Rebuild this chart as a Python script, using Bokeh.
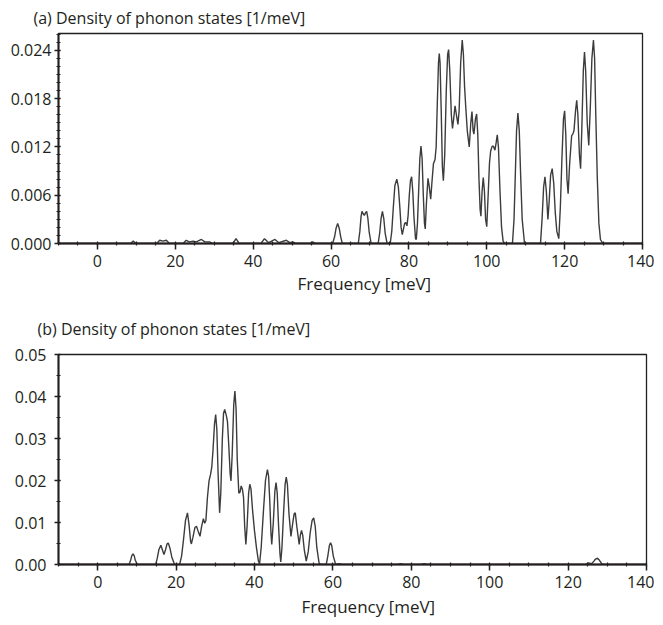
from bokeh.plotting import figure
from bokeh.layouts import column
from bokeh.models import Range1d, SingleIntervalTicker, NumeralTickFormatter, Title
from bokeh.embed import file_html
from bokeh.resources import INLINE

# ---- data: (frequency [meV], DOS [1/meV]) ----
dos_a_points = [
    (-10, 0), (8.5, 0), (9.2, 0.0003), (9.9, 0), (15.2, 0), (16.0, 0.0004), (16.8, 0.0003), (17.7, 0.0004), (18.5, 0),
    (22.0, 0), (22.8, 0.0004), (23.6, 0.0002), (24.6, 0.0003), (25.4, 0.0002), (26.7, 0.0005), (27.6, 0.0002),
    (28.8, 0.0002), (29.6, 0), (34.8, 0), (35.6, 0.0006), (36.4, 0), (42.0, 0), (42.9, 0.0006), (44.0, 0.0001),
    (45.6, 0.0005), (46.6, 0.0001), (48.5, 0.0004), (49.4, 0.0001), (50.2, 0.0002), (51.0, 0), (54.6, 0),
    (55.3, 0.0002), (56.0, 0),
    (60.4, 0), (60.9, 0.0008), (61.3, 0.0019), (61.7, 0.0025), (62.1, 0.0019), (62.5, 0.0008), (62.9, 0),
    (67.0, 0), (67.4, 0.0015), (67.7, 0.0033), (67.95, 0.0040), (68.25, 0.0037), (68.55, 0.0035), (68.85, 0.0038),
    (69.15, 0.0040), (69.45, 0.0032), (69.8, 0.0014), (70.3, 0),
    (72.1, 0), (72.5, 0.0013), (72.85, 0.0031), (73.2, 0.0040), (73.55, 0.0031), (73.9, 0.0013), (74.4, 0),
    (75.2, 0), (75.6, 0.0015), (76.0, 0.0045), (76.4, 0.0072), (76.9, 0.0080), (77.3, 0.0070), (77.7, 0.0043),
    (78.0, 0.0020), (78.3, 0.0011), (78.6, 0.0018), (78.9, 0.0025), (79.2, 0.0026), (79.5, 0.0022), (79.8, 0.0035),
    (80.1, 0.0060), (80.4, 0.0078), (80.7, 0.0083), (81.0, 0.0065), (81.3, 0.0033), (81.7, 0.0006), (81.9, 0.0005),
    (82.2, 0.0025), (82.5, 0.0065), (82.8, 0.0105), (83.1, 0.0121), (83.4, 0.0105), (83.7, 0.0060), (84.0, 0.0025),
    (84.2, 0.0018), (84.5, 0.0050), (84.9, 0.0081), (85.2, 0.0072), (85.6, 0.0055), (85.9, 0.0075), (86.3, 0.0099),
    (86.7, 0.0104), (87.0, 0.0120), (87.3, 0.0175), (87.6, 0.0225), (87.8, 0.0236), (88.0, 0.0225), (88.3, 0.0165),
    (88.6, 0.0095), (88.85, 0.0078), (89.2, 0.0110), (89.6, 0.0190), (89.95, 0.0235), (90.2, 0.0241), (90.5, 0.0215),
    (90.9, 0.0160), (91.2, 0.0143), (91.5, 0.0155), (91.85, 0.0171), (92.2, 0.0160), (92.6, 0.0148), (92.9, 0.0165),
    (93.3, 0.0225), (93.7, 0.0253), (94.0, 0.0235), (94.3, 0.0195), (94.6, 0.0170), (95.0, 0.0140), (95.5, 0.0120),
    (95.9, 0.0150), (96.2, 0.0164), (96.5, 0.0140), (96.7, 0.0136), (97.1, 0.0155), (97.4, 0.0161), (97.7, 0.0135),
    (98.0, 0.0080), (98.3, 0.0042), (98.5, 0.0034), (98.8, 0.0065), (99.1, 0.0082), (99.4, 0.0065), (99.7, 0.0030),
    (100.0, 0.0021), (100.4, 0.0065), (100.7, 0.0100), (101.0, 0.0115), (101.4, 0.0121), (101.7, 0.0121),
    (102.1, 0.0116), (102.4, 0.0125), (102.7, 0.0135), (103.0, 0.0120), (103.4, 0.0065), (103.8, 0.0020),
    (104.2, 0.0003), (104.6, 0),
    (106.6, 0), (107.0, 0.0030), (107.3, 0.0080), (107.65, 0.0140), (108.0, 0.0162), (108.35, 0.0140),
    (108.7, 0.0085), (109.1, 0.0030), (109.7, 0),
    (113.8, 0), (114.2, 0.0030), (114.6, 0.0070), (114.95, 0.0083), (115.3, 0.0065), (115.7, 0.0030), (116.0, 0.0050),
    (116.4, 0.0085), (116.8, 0.0093), (117.2, 0.0075), (117.6, 0.0038), (118.0, 0.0015), (118.5, 0.0006),
    (118.9, 0.0045), (119.3, 0.0105), (119.7, 0.0155), (120.0, 0.0165), (120.3, 0.0135), (120.6, 0.0080),
    (120.9, 0.0062), (121.3, 0.0100), (121.8, 0.0134), (122.1, 0.0136), (122.4, 0.0140), (122.8, 0.0165),
    (123.1, 0.0178), (123.4, 0.0160), (123.8, 0.0110), (124.1, 0.0093), (124.4, 0.0140), (124.8, 0.0215),
    (125.1, 0.0238), (125.4, 0.0215), (125.8, 0.0150), (126.2, 0.0122), (126.6, 0.0170), (127.0, 0.0230),
    (127.4, 0.0253), (127.7, 0.0230), (128.0, 0.0160), (128.4, 0.0080), (128.8, 0.0025), (129.2, 0.0005),
    (129.8, 0), (140, 0),
]

dos_b_points = [
    (-10, 0), (8.0, 0), (8.4, 0.0010), (8.7, 0.0021), (9.0, 0.0025), (9.3, 0.0021), (9.6, 0.0010), (10.1, 0),
    (14.8, 0), (15.2, 0.0015), (15.6, 0.0035), (16.1, 0.0046), (16.5, 0.0035), (16.9, 0.0024), (17.3, 0.0035),
    (17.7, 0.0049), (18.0, 0.0051), (18.4, 0.0040), (18.9, 0.0018), (19.6, 0),
    (20.9, 0), (21.4, 0.0020), (21.9, 0.0060), (22.4, 0.0105), (22.9, 0.0123), (23.3, 0.0095), (23.7, 0.0055),
    (23.9, 0.0049), (24.3, 0.0065), (24.8, 0.0088), (25.2, 0.0091), (25.6, 0.0080), (26.1, 0.0067), (26.5, 0.0090),
    (26.96, 0.0109), (27.3, 0.0098), (27.6, 0.0105), (28.0, 0.0160), (28.4, 0.0199), (28.8, 0.0215), (29.1, 0.0232),
    (29.4, 0.0270), (29.8, 0.0335), (30.1, 0.0357), (30.4, 0.0320), (30.7, 0.0220), (31.1, 0.0123), (31.4, 0.0170),
    (31.8, 0.0300), (32.1, 0.0360), (32.4, 0.0369), (32.8, 0.0355), (33.1, 0.0341), (33.4, 0.0290), (33.8, 0.0215),
    (34.0, 0.0199), (34.3, 0.0260), (34.7, 0.0380), (35.0, 0.0413), (35.3, 0.0370), (35.6, 0.0250), (36.0, 0.0170),
    (36.3, 0.0172), (36.6, 0.0187), (36.9, 0.0180), (37.2, 0.0160), (37.5, 0.0090), (37.8, 0.0048), (38.1, 0.0090),
    (38.5, 0.0170), (38.8, 0.0191), (39.1, 0.0180), (39.5, 0.0130), (40.0, 0.0080), (40.5, 0.0040), (41.0, 0.0008),
    (41.3, 0.0002), (41.7, 0.0040), (42.3, 0.0130), (42.8, 0.0200), (43.3, 0.0226), (43.6, 0.0210), (43.9, 0.0150),
    (44.2, 0.0075), (44.4, 0.0048), (44.8, 0.0100), (45.2, 0.0175), (45.5, 0.0195), (45.8, 0.0170), (46.1, 0.0100),
    (46.5, 0.0025), (46.7, 0.0006), (47.0, 0.0040), (47.4, 0.0120), (47.8, 0.0190), (48.1, 0.0208), (48.4, 0.0190),
    (48.8, 0.0120), (49.3, 0.0067), (49.7, 0.0095), (50.1, 0.0120), (50.4, 0.0123), (50.8, 0.0090), (51.4, 0.0048),
    (51.7, 0.0070), (52.0, 0.0081), (52.3, 0.0070), (52.7, 0.0035), (53.2, 0.0008), (53.7, 0.0030), (54.2, 0.0075),
    (54.7, 0.0105), (55.1, 0.0111), (55.5, 0.0090), (55.9, 0.0040), (56.5, 0.0002), (57.0, 0),
    (58.3, 0), (58.7, 0.0020), (59.1, 0.0045), (59.4, 0.0052), (59.7, 0.0045), (60.1, 0.0020), (60.7, 0),
    (61.6, 0.0002), (62.2, 0.0001), (63.0, 0), (76.5, 0), (77.3, 0.0002), (78.0, 0), (82.5, 0), (83.3, 0.0002),
    (84.0, 0), (124.5, 0), (125.2, 0.0004), (126.0, 0.0002), (126.6, 0.0008), (127.0, 0.0013), (127.5, 0.0015),
    (128.0, 0.0010), (128.5, 0.0003), (129.0, 0), (140, 0),
]

x_tick_interval = 20
y_tick_interval_a = 0.006
y_tick_interval_b = 0.01
title_a = "(a) Density of phonon states [1/meV]"
title_b = "(b) Density of phonon states [1/meV]"
xlabel = "Frequency [meV]"

FONT = "Open Sans"
TXT = "#231f20"
LINE = "#3c3c3c"


def make_panel(points, ymax, yint, yminor, yfmt, title, left_border, frame_w,
               title_offset, title_standoff, lbl_standoff, xlabel_offset, xlabel_standoff):
    freq = [f for f, _ in points]
    dos = [d for _, d in points]
    p = figure(output_backend="svg", toolbar_location=None,
               frame_width=frame_w, frame_height=210,
               x_range=Range1d(-10, 140), y_range=Range1d(0, ymax),
               min_border_left=left_border, min_border_right=12,
               min_border_top=0, min_border_bottom=0)
    p.background_fill_color = "white"
    p.border_fill_color = "white"
    p.grid.visible = False
    p.outline_line_color = TXT
    p.outline_line_width = 1.3

    p.line(freq, dos, line_color=LINE, line_width=1.4)

    t = Title(text=title, align="left", offset=title_offset, text_font=FONT,
              text_font_size="16px", text_font_style="normal", text_color=TXT,
              standoff=title_standoff)
    p.add_layout(t, "above")

    xl = Title(text=xlabel, align="left", offset=xlabel_offset, text_font=FONT,
               text_font_size="17px", text_font_style="normal", text_color=TXT,
               standoff=xlabel_standoff)
    p.add_layout(xl, "below")

    xa = p.xaxis[0]
    xa.ticker = SingleIntervalTicker(interval=x_tick_interval, num_minor_ticks=4)
    ya = p.yaxis[0]
    ya.ticker = SingleIntervalTicker(interval=yint, num_minor_ticks=yminor)
    ya.formatter = NumeralTickFormatter(format=yfmt)
    for ax in (xa, ya):
        ax.axis_line_color = TXT
        ax.axis_line_width = 2
        ax.major_tick_line_color = TXT
        ax.minor_tick_line_color = TXT
        ax.major_tick_line_width = 1.5
        ax.minor_tick_line_width = 1.2
        ax.major_label_text_font = FONT
        ax.major_label_text_font_size = "16px"
        ax.major_label_text_color = TXT
    xa.major_tick_out = 6
    xa.major_tick_in = 0
    xa.minor_tick_out = 2
    xa.minor_tick_in = 2
    xa.major_label_standoff = 5
    ya.major_tick_out = 4
    ya.major_tick_in = 2
    ya.minor_tick_out = 2
    ya.minor_tick_in = 2
    ya.major_label_standoff = lbl_standoff
    return p


pa = make_panel(dos_a_points, 0.0261, y_tick_interval_a, 6, "0.000", title_a, 58, 584,
                -25, 9, 3, 239, 0)
pb = make_panel(dos_b_points, 0.05, y_tick_interval_b, 2, "0.00", title_b, 54, 588,
                -21, 29, 8, 243, 4)

layout = column(pa, pb, spacing=7)
open("out.html", "w").write(file_html(layout, INLINE))
